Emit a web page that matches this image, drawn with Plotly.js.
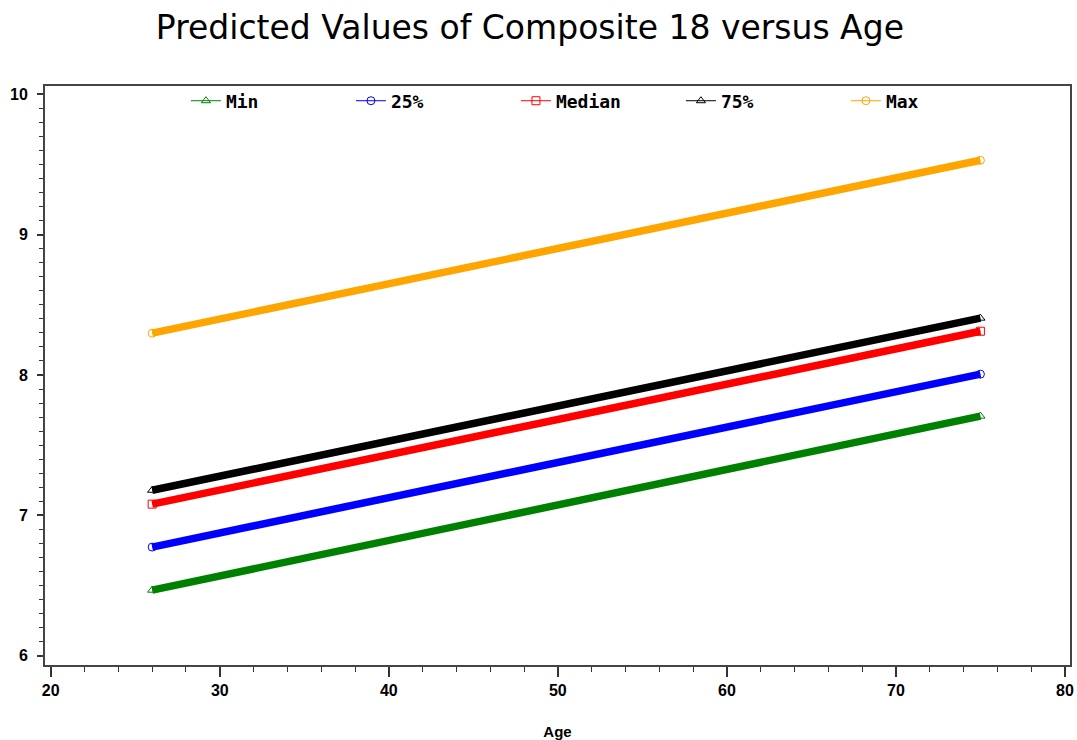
<!DOCTYPE html>
<html>
<head>
<meta charset="utf-8">
<script src="https://cdn.plot.ly/plotly-3.0.1.min.js"></script>
<style>html,body{margin:0;padding:0;background:#fff;}#chart{width:1077px;height:740px;}</style>
</head>
<body>
<div id="chart"></div>
<script>
// Ages at which predictions are drawn (line end points)
const ages = [26, 75];
// Predicted Composite 18 values per percentile group
const seriesNames = ["Min", "25%", "Median", "75%", "Max"];
const minVals    = [6.467, 7.707];
const p25Vals    = [6.774, 8.006];
const medianVals = [7.080, 8.312];
const p75Vals    = [7.179, 8.405];
const maxVals    = [8.298, 9.530];
const seriesValues = [minVals, p25Vals, medianVals, p75Vals, maxVals];
const seriesColors = ["#008000", "#0000ff", "#ff0000", "#000000", "#ffa500"];
const seriesSymbols = ["triangle-up-open", "circle-open", "square-open", "triangle-up-open", "circle-open"];
const xTicks = [20, 30, 40, 50, 60, 70, 80];
const yTicks = [6, 7, 8, 9, 10];

const traces = [];
seriesNames.forEach((name, i) => {
  // legend-style trace (thin line + markers), drawn underneath
  traces.push({
    x: ages, y: seriesValues[i], name: name, type: "scatter", mode: "lines+markers",
    line: {color: seriesColors[i], width: 1},
    marker: {symbol: seriesSymbols[i], size: 8, color: seriesColors[i], line: {width: 1, color: seriesColors[i]}},
    showlegend: true, hoverinfo: "skip"
  });
});
seriesNames.forEach((name, i) => {
  traces.push({
    x: ages, y: seriesValues[i], name: name, type: "scatter", mode: "lines",
    line: {color: seriesColors[i], width: 7.5},
    showlegend: false
  });
});

const tickFont = {family: "Liberation Sans, Arial, sans-serif", size: 16, color: "#000", weight: "bold"};
const layout = {
  width: 1077, height: 740,
  margin: {l: 45, r: 7, t: 86, b: 75, pad: 0},
  paper_bgcolor: "#fff", plot_bgcolor: "#fff",
  title: {text: "Predicted Values of Composite 18 versus Age",
          font: {family: "DejaVu Sans, Verdana, sans-serif", size: 33, color: "#000"},
          x: 0.492, xanchor: "center", y: 0.963, yanchor: "middle"},
  xaxis: {
    range: [19.66, 80.3], tickvals: xTicks, ticktext: xTicks.map(String),
    showgrid: false, zeroline: false, showline: true, mirror: true,
    linecolor: "#444", linewidth: 2,
    ticks: "outside", ticklen: 10, tickwidth: 2, tickcolor: "#333",
    minor: {dtick: 2, ticks: "outside", ticklen: 5, tickwidth: 1, tickcolor: "#333", showgrid: false},
    tickfont: tickFont,
    title: {text: "Age", font: {family: "Liberation Sans, Arial, sans-serif", size: 15, color: "#000", weight: "bold"}, standoff: 28}
  },
  yaxis: {
    range: [5.934, 10.059], tickvals: yTicks, ticktext: yTicks.map(String),
    showgrid: false, zeroline: false, showline: true, mirror: true,
    linecolor: "#444", linewidth: 2,
    ticks: "outside", ticklen: 6, tickwidth: 2, tickcolor: "#333",
    minor: {dtick: 0.1, ticks: "outside", ticklen: 4, tickwidth: 1, tickcolor: "#333", showgrid: false},
    tickfont: tickFont,
    ticklabelstandoff: 6
  },
  legend: {
    orientation: "h", x: 0.1375, xanchor: "left", y: 1.006, yanchor: "top",
    bgcolor: "rgba(0,0,0,0)", borderwidth: 0,
    entrywidth: 120, entrywidthmode: "pixels",
    font: {family: "DejaVu Sans Mono, monospace", size: 18, color: "#000", weight: "bold"},
    traceorder: "normal"
  },
  showlegend: true
};

Plotly.newPlot("chart", traces, layout, {staticPlot: true, displayModeBar: false});
</script>
</body>
</html>
